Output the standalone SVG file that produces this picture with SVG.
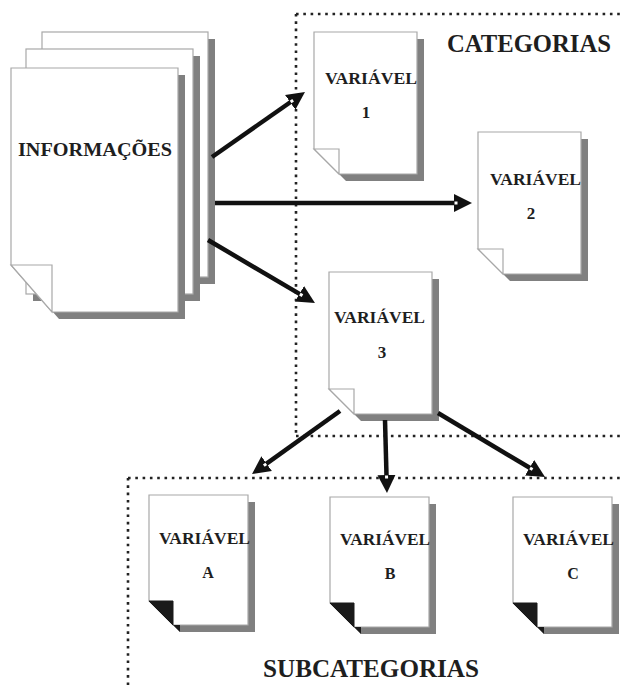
<svg xmlns="http://www.w3.org/2000/svg" xmlns:xlink="http://www.w3.org/1999/xlink" width="624" height="689" viewBox="0 0 624 689">
  <style>
    .bg { fill: #ffffff; }
    .shadow { fill: #808080; stroke: none; }
    .page { fill: #ffffff; stroke: #a8a8a8; stroke-width: 1.2; }
    .flap { fill: #ffffff; stroke: #a8a8a8; stroke-width: 1.2; }
    .flapdark { fill: #1a1a1a; stroke: #1a1a1a; stroke-width: 1; }
    .dots { fill: none; stroke: #222222; stroke-width: 2.6; stroke-dasharray: 2.6 4.7; }
    .conn { fill: none; stroke: #111111; stroke-width: 4.5; marker-end: url(#arrow); }
    .lbl { font-family: "Liberation Serif", "Times New Roman", serif; font-weight: bold; fill: #1e1e1e; }
    .var { font-size: 16px; }
    .num { font-size: 17px; text-anchor: middle; }
    .numsub { font-size: 16px; text-anchor: middle; }
    .title { font-size: 26px; }
  </style>
  <defs>
    <marker id="arrow" markerUnits="userSpaceOnUse" markerWidth="20" markerHeight="20" viewBox="0 -10 20 20" refX="4" refY="0" orient="auto">
      <path d="M0,-9 L18,0 L0,9 Z" fill="#111111"/>
      <rect x="0.5" y="-1.5" width="3" height="3" fill="#ffffff"/>
    </marker>
    <g id="pageCat">
      <path class="shadow" d="M7,7 H110 V149 H32 L7,124 Z"/>
      <path class="page" d="M0,0 H103 V142 H25 L0,117 Z"/>
      <path class="flap" d="M0,117 H25 V142 Z"/>
    </g>
    <g id="pageSub">
      <path class="shadow" d="M7,7 H106 V137 H31 L7,113 Z"/>
      <path class="page" d="M0,0 H99 V130 H24 L0,106 Z"/>
      <path class="flapdark" d="M0,106 H24 V130 Z"/>
      <path fill="#1a1a1a" d="M24,130 L31,137 L31,130 Z"/>
    </g>
  </defs>

  <rect class="bg" x="0" y="0" width="624" height="689"/>

  <g id="regions">
    <path class="dots" d="M296,14 H624"/>
    <path class="dots" d="M296,14 V436"/>
    <path class="dots" d="M296,436 H624"/>
    <path class="dots" d="M128,478 H624"/>
    <path class="dots" d="M128,478 V689"/>
  </g>

  <g id="informacoes">
    <rect class="shadow" x="49" y="39" width="166" height="245"/>
    <rect class="page" x="42" y="32" width="166" height="245"/>
    <rect class="shadow" x="33" y="56" width="167" height="245"/>
    <rect class="page" x="26" y="49" width="167" height="245"/>
    <path class="shadow" d="M18,75 H185 V319 H59 L18,272 Z"/>
    <path class="page" d="M11,68 H178 V312 H52 L11,265 Z"/>
    <path class="flap" d="M11,265 H52 V312 Z"/>
    <text class="lbl" x="18" y="156" font-size="18" textLength="154" lengthAdjust="spacingAndGlyphs">INFORMAÇÕES</text>
  </g>

  <g id="categorias-label">
    <text class="lbl title" x="447" y="52" textLength="164" lengthAdjust="spacingAndGlyphs">CATEGORIAS</text>
  </g>

  <g id="var1">
    <use xlink:href="#pageCat" href="#pageCat" transform="translate(314,32)"/>
    <text class="lbl var" x="325" y="84" textLength="92" lengthAdjust="spacingAndGlyphs">VARIÁVEL</text>
    <text class="lbl num" x="366" y="118">1</text>
  </g>

  <g id="var2">
    <use xlink:href="#pageCat" href="#pageCat" transform="translate(478,132)"/>
    <text class="lbl var" x="490" y="185" textLength="91" lengthAdjust="spacingAndGlyphs">VARIÁVEL</text>
    <text class="lbl num" x="531" y="219">2</text>
  </g>

  <g id="var3">
    <use xlink:href="#pageCat" href="#pageCat" transform="translate(329,272)"/>
    <text class="lbl var" x="334" y="323" textLength="91" lengthAdjust="spacingAndGlyphs">VARIÁVEL</text>
    <text class="lbl num" x="382" y="358">3</text>
  </g>

  <g id="varA">
    <use xlink:href="#pageSub" href="#pageSub" transform="translate(149,495)"/>
    <text class="lbl var" x="159" y="544" textLength="91" lengthAdjust="spacingAndGlyphs">VARIÁVEL</text>
    <text class="lbl numsub" x="208" y="578">A</text>
  </g>

  <g id="varB">
    <use xlink:href="#pageSub" href="#pageSub" transform="translate(330,497)"/>
    <text class="lbl var" x="340" y="545" textLength="90" lengthAdjust="spacingAndGlyphs">VARIÁVEL</text>
    <text class="lbl numsub" x="390" y="579">B</text>
  </g>

  <g id="varC">
    <use xlink:href="#pageSub" href="#pageSub" transform="translate(513,497)"/>
    <text class="lbl var" x="523" y="545" textLength="91" lengthAdjust="spacingAndGlyphs">VARIÁVEL</text>
    <text class="lbl numsub" x="573" y="579">C</text>
  </g>

  <g id="subcategorias-label">
    <text class="lbl title" x="263" y="677" textLength="216" lengthAdjust="spacingAndGlyphs">SUBCATEGORIAS</text>
  </g>

  <g id="connectors">
    <path class="conn" d="M212,157 L293.5,100"/>
    <path class="conn" d="M215,203 L458,203"/>
    <path class="conn" d="M208,240 L302.9,295.9"/>
    <path class="conn" d="M340,411 L263.4,465.9"/>
    <path class="conn" d="M385,420 L386.6,479"/>
    <path class="conn" d="M438,413 L533,469.8"/>
  </g>
</svg>
